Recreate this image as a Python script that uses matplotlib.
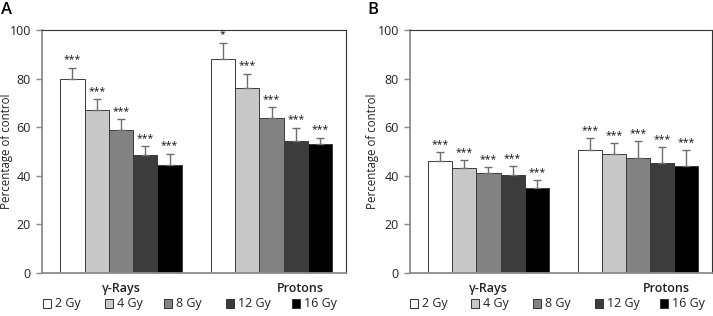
import matplotlib
matplotlib.use("Agg")
import matplotlib.pyplot as plt
import numpy as np

plt.rcParams['font.family'] = ['Open Sans', 'DejaVu Sans']

groups = ["γ-Rays", "Protons"]
doses = ["2 Gy", "4 Gy", "8 Gy", "12 Gy", "16 Gy"]
colors = ["#ffffff", "#c8c8c8", "#828282", "#3c3c3c", "#000000"]

# Panel A values (mean, upper error end)
A_mean = {"γ-Rays": [79.7, 67.1, 58.7, 48.6, 44.4],
          "Protons": [88.1, 75.9, 63.9, 54.2, 53.1]}
A_top = {"γ-Rays": [84.4, 71.5, 63.2, 52.0, 49.0],
         "Protons": [94.8, 81.9, 68.2, 59.7, 55.6]}
A_sig = {"γ-Rays": ["***"] * 5,
         "Protons": ["*", "***", "***", "***", "***"]}

# Panel B values
B_mean = {"γ-Rays": [46.1, 43.1, 40.9, 40.2, 35.1],
          "Protons": [50.5, 48.9, 47.2, 45.1, 44.0]}
B_top = {"γ-Rays": [49.7, 46.4, 43.5, 43.8, 38.1],
         "Protons": [55.4, 53.4, 54.2, 51.7, 50.5]}
B_sig = {"γ-Rays": ["***"] * 5,
         "Protons": ["***"] * 5}

yticks = [0, 20, 40, 60, 80, 100]

fig = plt.figure(figsize=(7.13, 3.16), dpi=100)

def panel(rect, means, tops, sigs, letter, letter_x, legend_x, ylab_x):
    ax = fig.add_axes(rect)
    width = 0.1615
    centers = np.arange(len(groups))
    for gi, g in enumerate(groups):
        for di in range(len(doses)):
            x = centers[gi] + (di - 2) * width
            m = means[g][di]
            e = tops[g][di] - m
            ax.bar(x, m, width=width, color=colors[di], edgecolor="#3a3a3a",
                   linewidth=0.7, zorder=2)
            ax.errorbar(x, m, yerr=[[0], [e]], fmt="none", ecolor="#6e6e6e",
                        elinewidth=1.0, capsize=3, capthick=1.0, zorder=3)
            ax.text(x, tops[g][di] + 1.0, sigs[g][di], ha="center", va="bottom",
                    fontsize=7.5, color="#111111")
    ax.set_ylim(0, 100)
    ax.set_xlim(-0.525, 1.495)
    ax.set_yticks(yticks)
    ax.set_yticklabels([str(v) for v in yticks], fontsize=9, color="#222222")
    ax.tick_params(axis="y", length=4, color="#888888", width=1, pad=4)
    ax.set_xticks([0, 1.19])
    ax.set_xticklabels(groups, fontsize=9, fontweight="semibold", color="#222222")
    ax.tick_params(axis="x", length=0, pad=7)
    ax.set_ylabel("Percentage of control", fontsize=8.3, color="#222222")
    ax.yaxis.set_label_coords(ylab_x, 0.5)
    for s in ["left", "bottom"]:
        ax.spines[s].set_color("#8c8c8c")
        ax.spines[s].set_linewidth(1.3)
    for s in ["top", "right"]:
        ax.spines[s].set_color("#333333")
        ax.spines[s].set_linewidth(0.8)
    fig.text(letter_x, 1 - 10 / 316, letter, fontsize=12, fontweight="semibold",
             ha="left", va="center")
    for di, d in enumerate(doses):
        lx = legend_x[di] / 713
        ly = 1 - 303 / 316
        fig.patches.append(plt.Rectangle((lx - 4 / 713, ly - 4.5 / 316), 8 / 713, 9 / 316,
                                         transform=fig.transFigure, facecolor=colors[di],
                                         edgecolor="#333333", linewidth=0.7))
        fig.text(lx + 8 / 713, ly, d, fontsize=9, ha="left", va="center", color="#222222")
    return ax

panel([42 / 713, 43.3 / 316, 304 / 713, 242.7 / 316], A_mean, A_top, A_sig, "A",
      1 / 713, [47, 109, 168, 230, 296], -0.094)
panel([410 / 713, 43.3 / 316, 302 / 713, 242.7 / 316], B_mean, B_top, B_sig, "B",
      367 / 713, [414, 475, 537, 599, 664], -0.104)

fig.savefig("out.png", dpi=100)
